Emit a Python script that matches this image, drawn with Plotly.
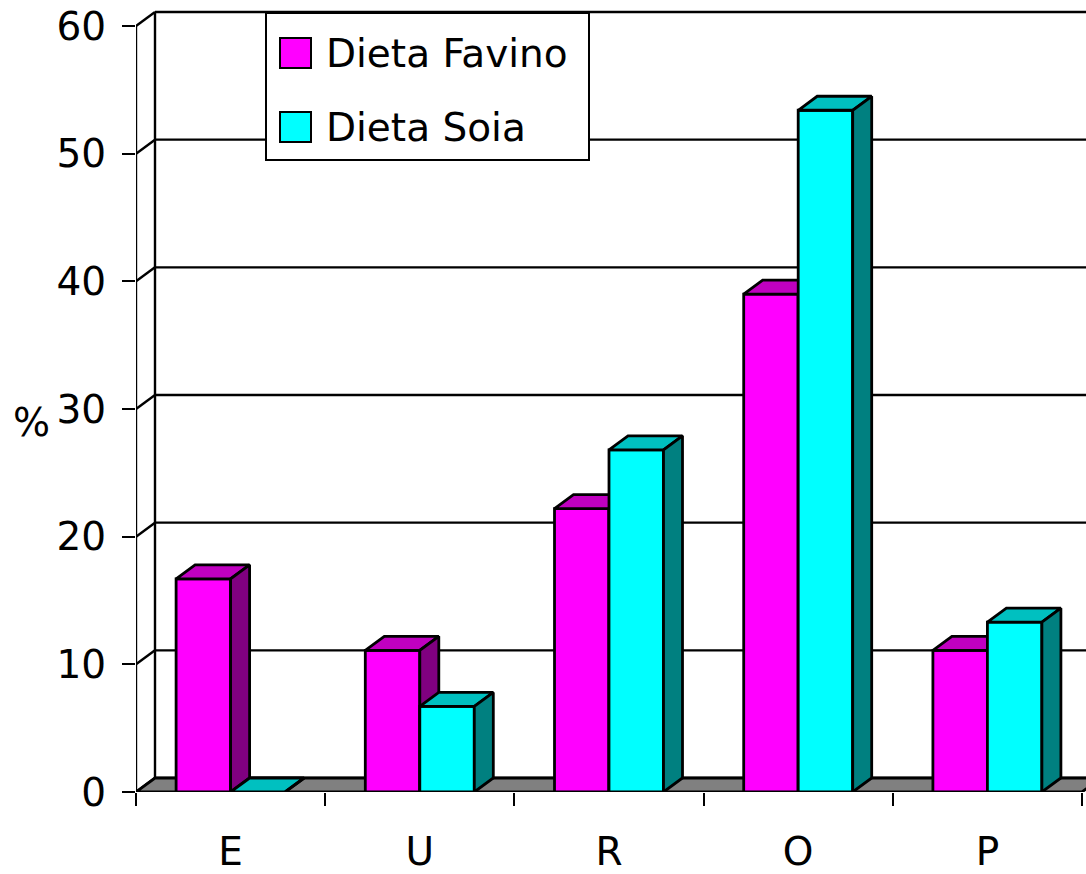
import plotly.graph_objects as go

# ---- data ----
categories = ["E", "U", "R", "O", "P"]
favino = [16.7, 11.1, 22.2, 39.0, 11.1]
soia = [0.0, 6.7, 26.8, 53.4, 13.3]
series_names = ["Dieta Favino", "Dieta Soia"]
y_ticks = [0, 10, 20, 30, 40, 50, 60]

# ---- layout geometry ----
W, H = 1086, 874
ML, MR, MT, MB = 136, 0, 8, 82
plot_w = W - ML - MR
plot_h = H - MT - MB
px_per_cat = 189.2
px_per_unit = 766 / 60.0
X0 = -0.5
X1 = X0 + plot_w / px_per_cat
Y1 = plot_h / px_per_unit
DX = 19 / px_per_cat
DY = 14 / px_per_unit
BW = 54.5 / px_per_cat
n = len(categories)
XMAX = n - 0.5

FONT = "Comic Sans MS, DejaVu Sans, sans-serif"
FS = 39

colors = {
    "Dieta Favino": ("#FF00FF", "#C000C0", "#800080"),
    "Dieta Soia": ("#00FFFF", "#00C0C0", "#008080"),
}


def faces(values, offset):
    fx, fy, tx, ty, sx, sy = [], [], [], [], [], []
    for i, v in enumerate(values):
        x0 = i + offset
        x1 = x0 + BW
        fx += [x0, x1, x1, x0, x0, None]
        fy += [0, 0, v, v, 0, None]
        tx += [x0, x1, x1 + DX, x0 + DX, x0, None]
        ty += [v, v, v + DY, v + DY, v, None]
        sx += [x1, x1 + DX, x1 + DX, x1, x1, None]
        sy += [0, DY, v + DY, v, 0, None]
    return (fx, fy), (tx, ty), (sx, sy)


fig = go.Figure()
for name, vals, off in [(series_names[0], favino, -BW), (series_names[1], soia, 0.0)]:
    front, top, side = faces(vals, off)
    cf, ct, cs = colors[name]
    for (xs, ys), c in [(front, cf), (top, ct), (side, cs)]:
        fig.add_trace(go.Scatter(
            x=xs, y=ys, mode="lines", fill="toself", fillcolor=c,
            line=dict(color="black", width=2.8), hoverinfo="skip",
            showlegend=False, name=name))

# invisible trace to carry the category axis
fig.add_trace(go.Scatter(x=list(range(n)), y=[0] * n, xaxis="x2", mode="markers",
                         marker=dict(opacity=0), hoverinfo="skip", showlegend=False))

shapes = []
LW = 2.4
# back wall gridlines + left diagonals
for t in y_ticks:
    shapes.append(dict(type="line", xref="x", yref="y", x0=X0 + DX, x1=X1 + 1,
                       y0=t + DY, y1=t + DY, line=dict(color="black", width=LW), layer="below"))
    shapes.append(dict(type="line", xref="x", yref="y", x0=X0, x1=X0 + DX,
                       y0=t, y1=t + DY, line=dict(color="black", width=LW), layer="below"))
# back wall vertical edge
shapes.append(dict(type="line", xref="x", yref="y", x0=X0 + DX, x1=X0 + DX,
                   y0=DY, y1=y_ticks[-1] + DY, line=dict(color="black", width=LW), layer="below"))
# front axis line
shapes.append(dict(type="line", xref="x", yref="y", x0=X0, x1=X0,
                   y0=0, y1=y_ticks[-1], line=dict(color="black", width=LW), layer="below"))
# floor
shapes.append(dict(type="path", xref="x", yref="y",
                   path=f"M {X0},0 L {XMAX},0 L {XMAX + DX},{DY} L {X0 + DX},{DY} Z",
                   fillcolor="#808080", line=dict(color="black", width=2.8), layer="below"))


def px2paper_x(px):
    return (px - ML) / plot_w


def px2paper_y(py):
    return (H - MB - py) / plot_h


# legend (custom)
shapes.append(dict(type="rect", xref="paper", yref="paper",
                   x0=px2paper_x(266), x1=px2paper_x(589),
                   y0=px2paper_y(160), y1=px2paper_y(13),
                   fillcolor="white", line=dict(color="black", width=2), layer="above"))
annotations = []
for name, yc in [(series_names[0], 53), (series_names[1], 127)]:
    shapes.append(dict(type="rect", xref="paper", yref="paper",
                       x0=px2paper_x(280), x1=px2paper_x(311),
                       y0=px2paper_y(yc + 15), y1=px2paper_y(yc - 15),
                       fillcolor=colors[name][0], line=dict(color="black", width=2), layer="above"))
    annotations.append(dict(xref="paper", yref="paper", x=px2paper_x(324), y=px2paper_y(yc),
                            xanchor="left", yanchor="middle", text=name, showarrow=False,
                            font=dict(family=FONT, size=FS, color="black")))

annotations.append(dict(xref="paper", yref="paper", x=px2paper_x(31), y=px2paper_y(422),
                        xanchor="center", yanchor="middle", text="%", showarrow=False,
                        font=dict(family=FONT, size=FS, color="black")))

fig.update_layout(
    width=W, height=H,
    margin=dict(l=ML, r=MR, t=MT, b=MB, pad=0, autoexpand=False),
    plot_bgcolor="white", paper_bgcolor="white",
    showlegend=False,
    shapes=shapes, annotations=annotations,
    xaxis=dict(range=[X0, X1], tickvals=[i - 0.5 for i in range(n + 1)],
               ticktext=[""] * (n + 1), ticks="outside", ticklen=13, tickwidth=2.4,
               tickcolor="black", showgrid=False, zeroline=False, showline=False,
               automargin=False),
    xaxis2=dict(range=[X0, X1], overlaying="x", anchor="y", side="bottom",
                tickvals=list(range(n)), ticktext=categories, ticks="",
                showgrid=False, zeroline=False, showline=False, automargin=False,
                ticklabelstandoff=33,
                tickfont=dict(family=FONT, size=FS, color="black")),
    yaxis=dict(range=[0, Y1], tickvals=y_ticks, ticktext=[str(t) for t in y_ticks],
               ticks="outside", ticklen=13, tickwidth=2.4, tickcolor="black",
               showgrid=False, zeroline=False, showline=False, automargin=False,
               ticklabelstandoff=8,
               tickfont=dict(family=FONT, size=FS, color="black")),
)

fig.write_html("out.html",
               config={"displayModeBar": False},
               post_script="document.body.style.margin='0';document.body.style.overflow='hidden';")
